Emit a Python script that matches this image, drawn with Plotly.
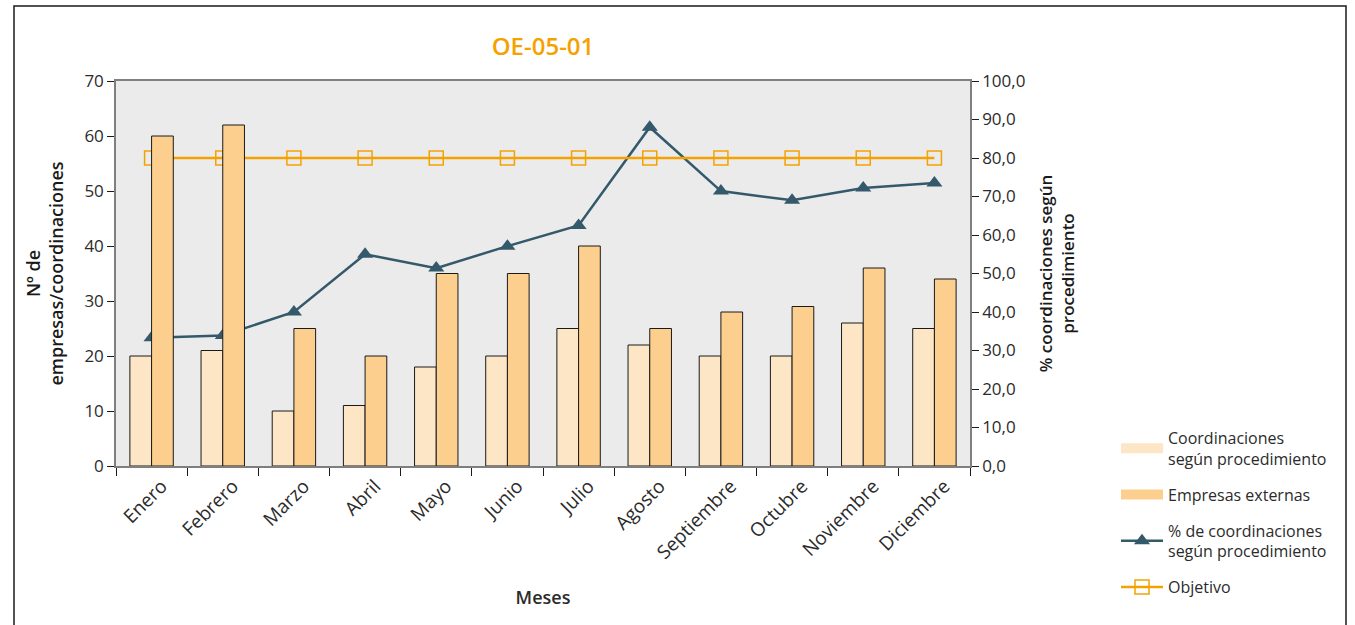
import plotly.graph_objects as go

meses = ["Enero", "Febrero", "Marzo", "Abril", "Mayo", "Junio", "Julio",
         "Agosto", "Septiembre", "Octubre", "Noviembre", "Diciembre"]
coordinaciones = [20, 21, 10, 11, 18, 20, 25, 22, 20, 20, 26, 25]
empresas = [60, 62, 25, 20, 35, 35, 40, 25, 28, 29, 36, 34]
porcentaje = [33.3, 33.9, 40.0, 55.0, 51.4, 57.1, 62.5, 88.0, 71.4, 69.0, 72.2, 73.5]
objetivo = [80, 80, 80, 80, 80, 80, 80, 80, 80, 80, 80, 80]

FONT = "Open Sans"
TXT = "#2b2b2b"
ORANGE = "#f5a200"
SLATE = "#34596b"
LIGHT = "#fde6c6"
MID = "#fccf8f"

fig = go.Figure()

# Bars (legend drawn by swatch entries below)
fig.add_trace(go.Bar(
    x=meses, y=coordinaciones, name="Coordinaciones<br>según procedimiento",
    marker=dict(color=LIGHT, line=dict(color="#1a1a1a", width=1)),
    yaxis="y2", showlegend=False))
fig.add_trace(go.Bar(
    x=meses, y=empresas, name="Empresas externas",
    marker=dict(color=MID, line=dict(color="#1a1a1a", width=1)),
    yaxis="y2", showlegend=False))

# Legend swatches for the bar series (wide flat rectangles, as in the original)
fig.add_trace(go.Scatter(
    x=[None], y=[None], mode="lines", name="Coordinaciones<br>según procedimiento",
    line=dict(color=LIGHT, width=13), yaxis="y", legendgroup="a"))
fig.add_trace(go.Scatter(
    x=[None], y=[None], mode="lines", name="Empresas externas",
    line=dict(color=MID, width=13), yaxis="y", legendgroup="b"))

fig.add_trace(go.Scatter(
    x=meses, y=porcentaje, name="% de coordinaciones<br>según procedimiento",
    mode="lines+markers", line=dict(color=SLATE, width=2.5),
    marker=dict(symbol="triangle-up", size=14, color=SLATE),
    yaxis="y", legendgroup="c"))
fig.add_trace(go.Scatter(
    x=meses, y=objetivo, name="Objetivo",
    mode="lines+markers", line=dict(color=ORANGE, width=2.5),
    marker=dict(symbol="square-open", size=14, color=ORANGE, line=dict(width=1.5)),
    yaxis="y", legendgroup="d"))

L, R, T, B = 116, 385, 81, 159
W, H = 1355, 625
pw, ph = W - L - R, H - T - B

def px(xp):
    return (xp - L) / pw

def py(yp):
    return (H - B - yp) / ph

fig.update_layout(
    width=W, height=H,
    margin=dict(l=L, r=R, t=T, b=B, pad=0),
    paper_bgcolor="white", plot_bgcolor="#ebebeb",
    separators=",.",
    font=dict(family=FONT, size=16, color=TXT),
    barmode="group", bargap=0.39, bargroupgap=0,
    title=dict(text="OE-05-01", x=px(543), xanchor="center", xref="paper",
               y=1 - 47 / H, yanchor="middle",
               font=dict(family=FONT, size=24, color=ORANGE, weight=600)),
    xaxis=dict(range=[-0.5, 11.5], showline=True, linecolor="#7f7f7f", linewidth=1.5,
               mirror=True, ticks="outside", tickcolor="#1a1a1a", ticklen=8, tickwidth=1,
               tickson="boundaries", tickangle=-45, showgrid=False,
               ticklabelshift=10,
               tickfont=dict(size=19, color=TXT),
               title=dict(text="Meses", standoff=28,
                          font=dict(size=18, color=TXT, weight=600))),
    yaxis=dict(side="right", range=[0, 100], dtick=10, tickformat=".1f",
               showline=True, linecolor="#7f7f7f", linewidth=1.5,
               ticks="outside", tickcolor="#1a1a1a", ticklen=7, showgrid=False,
               zeroline=False, tickfont=dict(size=17, color=TXT),
               title=dict(text="% coordinaciones según<br>procedimiento", standoff=16,
                          font=dict(size=17, color="#1a1a1a", weight=600))),
    yaxis2=dict(side="left", overlaying="y", anchor="x", range=[0, 70], dtick=10,
                showline=True, linecolor="#7f7f7f", linewidth=1.5,
                ticks="outside", tickcolor="#1a1a1a", ticklen=7, showgrid=False,
                zeroline=False, tickfont=dict(size=17, color=TXT),
                title=dict(text="Nº de<br>empresas/coordinaciones", standoff=16,
                           font=dict(size=18, color="#1a1a1a", weight=600))),
    legend=dict(x=px(1116), y=py(421), xanchor="left", yanchor="top",
                bgcolor="rgba(0,0,0,0)", font=dict(size=16, color=TXT),
                tracegroupgap=12, itemwidth=42),
    shapes=[dict(type="rect", xref="paper", yref="paper",
                 x0=px(14), x1=px(1346), y0=py(640), y1=py(6),
                 line=dict(color="#1a1a1a", width=1.5), fillcolor="rgba(0,0,0,0)",
                 layer="above")],
)

fig.write_html("out.html")
